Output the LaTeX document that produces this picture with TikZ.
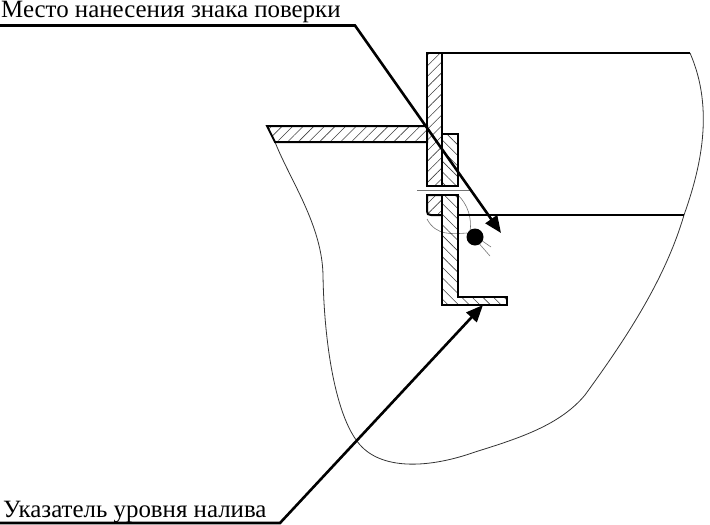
\documentclass[tikz,border=0pt]{standalone}
\usepackage{fontspec}
\setmainfont{Liberation Serif}
\usetikzlibrary{patterns.meta,arrows.meta}
\tikzset{
  part/.style={draw=black,line width=2pt},
  hatchup/.style={pattern={Lines[angle=45,distance=7.5pt,line width=.6pt]},pattern color=black!75},
  hatchdown/.style={pattern={Lines[angle=-45,distance=7.5pt,line width=.6pt]},pattern color=black!75},
  outline/.style={draw=black!80,line width=.8pt},
  thin line/.style={draw=black!55,line width=.6pt},
  leader/.style={draw=black,line width=2.6pt,-{Triangle[length=17pt,width=14pt]}},
  caption/.style={font=\fontsize{24.9pt}{28pt}\selectfont,inner sep=0pt,anchor=base west}
}
\begin{document}
\begin{tikzpicture}[x=1pt,y=-1pt]
\useasboundingbox (0,0) rectangle (710,525);
% labels
\node[caption] (place) at (1,17.5) {Место нанесения знака поверки};
\node[caption] (level) at (3,517.5) {Указатель уровня налива};
% free outlines
\draw[outline] (275,142) .. controls (290,180) and (322,225) .. (323,275)
  .. controls (324,340) and (335,420) .. (362,447)
  .. controls (385,470) and (430,468) .. (475,452)
  .. controls (520,438) and (560,425) .. (585,395)
  .. controls (625,340) and (665,280) .. (684,215)
  .. controls (700,170) and (715,110) .. (690,53);
% thin lines round the dot
\draw[thin line] (417,190) -- (470,190);
\draw[thin line] (458,195) .. controls (468,205) and (472,218) .. (470,232);
\draw[thin line] (427,219) .. controls (436,236) and (452,234) .. (467,233);
\draw[thin line] (478,238) -- (491,247);
\draw[thin line] (476,240) -- (490,256);
% parts
\draw[part,hatchup] (267,126) -- (427,126) -- (427,142) -- (275,142) -- cycle;
\draw[part,hatchup] (427,53) rectangle (442,186);
\draw[part,hatchdown] (442,134) rectangle (458,186);
\draw[part,hatchup] (442,195) -- (427,195) -- (427,211) .. controls (427,214) and (428,215) .. (431,215) -- (442,215);
\draw[part,hatchdown] (442,195) -- (458,195) -- (458,297) -- (507,297) -- (507,305) -- (442,305) -- cycle;
\draw[part] (427,186) -- (458,186);
\draw[part] (442,53) -- (690,53);
\draw[part] (458,215) -- (684,215);
\fill[black] (475,237) circle (8.5);
% leaders
\coordinate (placeend) at (0,25.5);
\coordinate (placeknee) at (355,25.5);
\coordinate (placetip) at (501,233);
\coordinate (levelend) at (0,523);
\coordinate (levelknee) at (280,523);
\coordinate (leveltip) at (483,305);
\draw[leader] (placeend) -- (placeknee) -- (placetip);
\draw[leader] (levelend) -- (levelknee) -- (leveltip);
\end{tikzpicture}
\end{document}
